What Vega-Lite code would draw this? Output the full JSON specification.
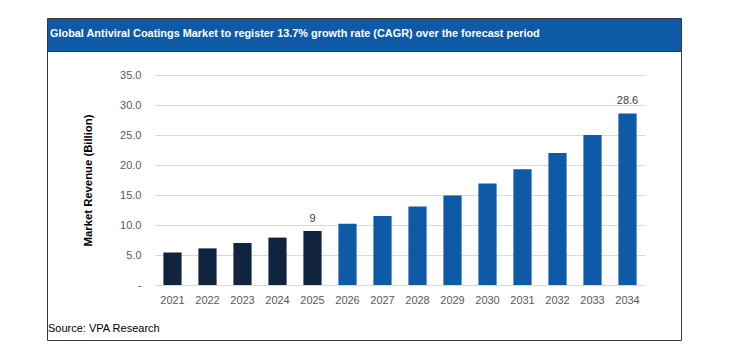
{
  "$schema": "https://vega.github.io/schema/vega-lite/v6.json",
  "padding": {"left": 46, "top": 17, "right": 0, "bottom": 0},
  "background": "white",
  "spacing": 0,
  "bounds": "flush",
  "config": {
    "font": "Liberation Sans",
    "concat": {"spacing": 0}
  },
  "data": {
    "values": [
      {"year": "2021", "value": 5.4},
      {"year": "2022", "value": 6.1},
      {"year": "2023", "value": 7.0},
      {"year": "2024", "value": 7.9},
      {"year": "2025", "value": 9.0},
      {"year": "2026", "value": 10.2},
      {"year": "2027", "value": 11.5},
      {"year": "2028", "value": 13.1},
      {"year": "2029", "value": 14.9},
      {"year": "2030", "value": 16.9},
      {"year": "2031", "value": 19.3},
      {"year": "2032", "value": 22.0},
      {"year": "2033", "value": 25.0},
      {"year": "2034", "value": 28.6}
    ]
  },
  "vconcat": [
    {
      "width": 634,
      "height": 33,
      "view": {"fill": "#0E5AA7", "stroke": "#3a3a3a"},
      "title": {
        "text": "Global Antiviral Coatings Market to register 13.7% growth rate (CAGR) over the forecast period",
        "orient": "bottom",
        "anchor": "start",
        "frame": "group",
        "offset": -17.5,
        "dx": 3,
        "baseline": "middle",
        "fontSize": 10.9,
        "fontWeight": "bold",
        "color": "white"
      },
      "mark": {"type": "text", "text": ""},
      "transform": [{"filter": "datum.year == '2021'"}]
    },
    {
      "width": 634,
      "height": 289,
      "view": {"fill": "white", "stroke": "#3a3a3a"},
      "title": {
        "text": "Source: VPA Research",
        "orient": "bottom",
        "anchor": "start",
        "frame": "group",
        "offset": -8,
        "dx": 1,
        "baseline": "alphabetic",
        "fontSize": 11,
        "fontWeight": "normal",
        "color": "black"
      },
      "encoding": {
        "x": {
          "field": "year",
          "type": "ordinal",
          "scale": {"range": [108, 598], "paddingInner": 0.48, "paddingOuter": 0.24},
          "axis": {
            "title": null,
            "orient": "bottom",
            "offset": -55,
            "domain": false,
            "ticks": false,
            "tickSize": 0,
            "labelPadding": 9,
            "labelAngle": 0,
            "labelFontSize": 11,
            "labelColor": "#595959",
            "grid": false
          }
        },
        "y": {
          "field": "value",
          "type": "quantitative",
          "scale": {"domain": [0, 35], "range": [234, 24], "nice": false},
          "axis": {
            "title": "Market Revenue (Billion)",
            "titleFontSize": 11.3,
            "titleFontWeight": "bold",
            "titleColor": "black",
            "titlePadding": 26,
            "offset": -99,
            "values": [0, 5, 10, 15, 20, 25, 30, 35],
            "labelExpr": "datum.value == 0 ? '-\u00a0\u00a0' : format(datum.value, '.1f')",
            "labelFontSize": 11,
            "labelColor": "#595959",
            "labelPadding": 5,
            "domain": false,
            "ticks": false,
            "tickSize": 0,
            "grid": true,
            "gridColor": "#d9d9d9",
            "gridWidth": 1
          }
        }
      },
      "layer": [
        {
          "mark": {"type": "bar"},
          "encoding": {
            "color": {
              "condition": {"test": "toNumber(datum.year) <= 2025", "value": "#10233F"},
              "value": "#0E5AA7"
            }
          }
        },
        {
          "transform": [{"filter": "datum.year == '2025' || datum.year == '2034'"}],
          "mark": {"type": "text", "baseline": "middle", "dy": -12, "fontSize": 11, "color": "#404040"},
          "encoding": {
            "text": {"field": "value", "type": "quantitative", "format": ""}
          }
        }
      ]
    }
  ]
}
